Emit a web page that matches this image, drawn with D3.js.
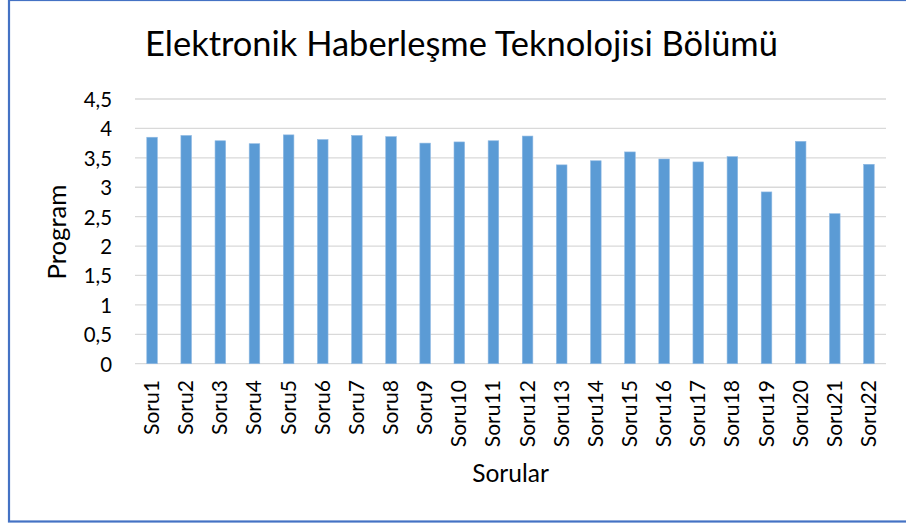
<!DOCTYPE html>
<html>
<head>
<meta charset="utf-8">
<script src="https://cdn.jsdelivr.net/npm/d3@7"></script>
<style>
  html, body { margin: 0; padding: 0; background: #fff; }
  svg { display: block; }
  text { font-family: Lato, "Open Sans", sans-serif; fill: #000; }
</style>
</head>
<body>
<svg id="chart" width="906" height="524"></svg>
<script>
const categories = ["Soru1","Soru2","Soru3","Soru4","Soru5","Soru6","Soru7","Soru8","Soru9","Soru10","Soru11","Soru12","Soru13","Soru14","Soru15","Soru16","Soru17","Soru18","Soru19","Soru20","Soru21","Soru22"];
const values = [3.85,3.88,3.79,3.74,3.89,3.81,3.88,3.86,3.75,3.77,3.79,3.87,3.38,3.45,3.60,3.48,3.43,3.52,2.92,3.78,2.55,3.39];
const yTicks = [0,0.5,1,1.5,2,2.5,3,3.5,4,4.5];
const title = "Elektronik Haberleşme Teknolojisi Bölümü";
const xTitle = "Sorular";
const yTitle = "Program";

const svg = d3.select("#chart");

// outer border
svg.append("rect").attr("x", 9).attr("y", 0).attr("width", 920).attr("height", 521.5)
  .attr("fill", "none").attr("stroke", "#4472C4").attr("stroke-width", 2.2);

const pLeft = 135, pRight = 886, pTop = 99, pBottom = 363.7;

const x = d3.scaleBand().domain(categories).range([pLeft, pRight])
  .paddingInner(0.69).paddingOuter(0.345);
const y = d3.scaleLinear().domain([0, 4.5]).range([pBottom, pTop]);

function fit(sel, target) {
  const fs = parseFloat(sel.attr("font-size"));
  const w = sel.node().getComputedTextLength();
  sel.attr("font-size", fs * target / w);
}

// gridlines
svg.append("g").selectAll("line").data(yTicks).join("line")
  .attr("x1", pLeft).attr("x2", pRight)
  .attr("y1", d => y(d)).attr("y2", d => y(d))
  .attr("stroke", "#d9d9d9").attr("stroke-width", 1.3);

// bars
svg.append("g").selectAll("rect").data(values).join("rect")
  .attr("x", (d, i) => x(categories[i]))
  .attr("y", d => y(d))
  .attr("width", x.bandwidth())
  .attr("height", d => y(0) - y(d))
  .attr("fill", "#5B9BD5")
  .attr("stroke", "#8fb9e3").attr("stroke-width", 0.6);

// y axis
const yAxis = d3.axisLeft(y).tickValues(yTicks).tickSize(0).tickPadding(0)
  .tickFormat(d => String(d).replace(".", ","));
const yg = svg.append("g").attr("transform", `translate(112,0)`).call(yAxis);
yg.select(".domain").remove();
yg.selectAll("text").attr("font-family", "Lato").attr("font-size", 19.5)
  .attr("fill", "#000").attr("dy", "0.36em");
{
  const t = yg.selectAll("text").filter(d => d === 4.5);
  const w = t.node().getComputedTextLength();
  yg.selectAll("text").attr("font-size", 19.5 * 28.3 / w);
}

// x tick labels
const xg = svg.append("g");
xg.selectAll("text").data(categories).join("text")
  .attr("transform", d => `translate(${x(d) + x.bandwidth()/2 + 7}, 380) rotate(-90)`)
  .attr("text-anchor", "end")
  .attr("font-size", 20)
  .text(d => d);
{
  const t = xg.select("text");
  const w = t.node().getComputedTextLength();
  xg.selectAll("text").attr("font-size", 20 * 55 / w);
}

// title
const tt = svg.append("text").attr("x", 461.5).attr("y", 55.7)
  .attr("text-anchor", "middle").attr("font-size", 30).text(title);
fit(tt, 633);

// x axis title
const xt = svg.append("text").attr("x", 510.5).attr("y", 481.7)
  .attr("text-anchor", "middle").attr("font-size", 22).text(xTitle);
fit(xt, 76.7);

// y axis title
const yt = svg.append("text").attr("transform", "translate(66,232) rotate(-90)")
  .attr("text-anchor", "middle").attr("font-size", 22).text(yTitle);
fit(yt, 95);
</script>
</body>
</html>
